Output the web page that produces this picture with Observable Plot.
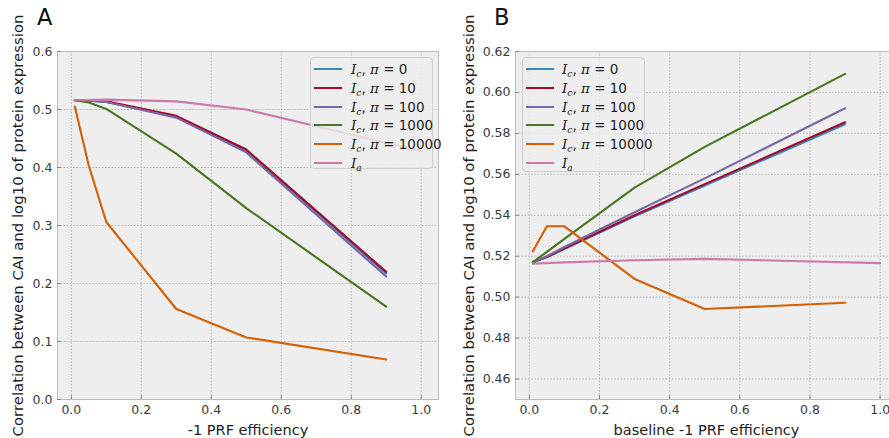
<!DOCTYPE html>
<html><head><meta charset="utf-8">
<script src="https://cdn.jsdelivr.net/npm/d3@7"></script>
<script src="https://cdn.jsdelivr.net/npm/@observablehq/plot@0.6"></script>
<style>
body{margin:0;background:#fff;overflow:hidden;font-family:"DejaVu Sans",sans-serif;}
#wrap{position:relative;width:889px;height:438px;overflow:hidden;}
.panel{position:absolute;top:0;}
.letter{position:absolute;top:6px;font-size:22.5px;line-height:1;color:#111;font-family:"DejaVu Sans",sans-serif;}
.legend{position:absolute;background:rgba(238,238,238,0.8);border:1px solid #cfcfcf;border-radius:4px;box-sizing:border-box;}
.row{position:absolute;left:0;height:18px;font-size:13.5px;color:#222;white-space:nowrap;}
.sw{position:absolute;top:8px;width:28px;height:0;border-top:2.5px solid;}
.lab{position:absolute;top:0;line-height:18px;}
.lab i{font-family:"DejaVu Serif",serif;font-style:italic;}
.lab sub{font-family:"DejaVu Serif",serif;font-style:italic;font-size:9px;vertical-align:-3px;}
g[aria-label="y-axis label"] text{font-size:14.9px;fill:#222;}
g[aria-label="x-axis label"] text{font-size:14.5px;fill:#222;}
</style>
</head><body>
<div id="wrap"></div>
<script>
// ---- data ----
const seriesKeys = ["pi0", "pi10", "pi100", "pi1000", "pi10000", "Ia"];
const seriesPi = ["0", "10", "100", "1000", "10000", null];
const seriesColors = ["#348ABD", "#A60628", "#7A68A6", "#467821", "#D55E00", "#CC79A7"];

const xIc = [0.01, 0.05, 0.1, 0.3, 0.5, 0.9];
const xIa = [0.01, 0.1, 0.3, 0.5, 1.0];

// Panel A: -1 PRF efficiency
const A_pi0     = [0.516, 0.515, 0.513, 0.488, 0.429, 0.217];
const A_pi10    = [0.516, 0.515, 0.514, 0.489, 0.431, 0.220];
const A_pi100   = [0.516, 0.515, 0.513, 0.486, 0.426, 0.212];
const A_pi1000  = [0.516, 0.512, 0.501, 0.424, 0.330, 0.160];
const A_pi10000 = [0.505, 0.403, 0.306, 0.156, 0.107, 0.069];
const A_Ia      = [0.516, 0.517, 0.514, 0.500, 0.428];

// Panel B: baseline -1 PRF efficiency
const B_pi0     = [0.5170, 0.5195, 0.5235, 0.5395, 0.5545, 0.5845];
const B_pi10    = [0.5170, 0.5197, 0.5238, 0.5400, 0.5552, 0.5854];
const B_pi100   = [0.5170, 0.5200, 0.5245, 0.5415, 0.5580, 0.5923];
const B_pi1000  = [0.5171, 0.5221, 0.5285, 0.5535, 0.5734, 0.6091];
const B_pi10000 = [0.5224, 0.5346, 0.5346, 0.5089, 0.4942, 0.4973];
const B_Ia      = [0.5163, 0.5170, 0.5180, 0.5187, 0.5166];

const xTicks = [0, 0.2, 0.4, 0.6, 0.8, 1.0];
const yTicksA = [0, 0.1, 0.2, 0.3, 0.4, 0.5, 0.6];
const yTicksB = [0.46, 0.48, 0.50, 0.52, 0.54, 0.56, 0.58, 0.60, 0.62];
const yLabel = "Correlation between CAI and log10 of protein expression";

function rows(valsList) {
  return valsList.map((vals, i) => {
    const xs = i === 5 ? xIa : xIc;
    return vals.map((v, j) => ({x: xs[j], y: v, s: seriesKeys[i]}));
  });
}

function panel({seriesData, yDomain, yTicks, yFmt, xLabel, width, marginLeft, marginRight, labelOffsetY}) {
  const grid = {stroke: "#b2b2b2", strokeOpacity: 1, strokeWidth: 0.9, strokeDasharray: "1.6,1.6"};
  return Plot.plot({
    width, height: 438,
    marginLeft, marginRight, marginTop: 51, marginBottom: 39,
    style: {background: "transparent", fontFamily: "DejaVu Sans, sans-serif", fontSize: "12.5px", color: "#3a3a3a", overflow: "visible"},
    x: {domain: [-0.0395, 1.0495], ticks: xTicks, tickFormat: d3.format(".1f")},
    y: {domain: yDomain, ticks: yTicks, tickFormat: d3.format(yFmt)},
    color: {domain: seriesKeys, range: seriesColors},
    marks: [
      Plot.frame({fill: "#eeeeee", stroke: null}),
      Plot.gridX(xTicks, grid),
      Plot.gridY(yTicks, grid),
      ...seriesData.map(d => Plot.line(d, {x: "x", y: "y", stroke: "s", strokeWidth: 2.1, clip: true})),
      Plot.frame({stroke: "#bcbcbc", strokeWidth: 1}),
      Plot.axisX(xTicks, {tickSize: -4, tickPadding: 10, stroke: "#888", label: xLabel, labelAnchor: "center", labelArrow: "none", labelOffset: 35, tickFormat: d3.format(".1f")}),
      Plot.axisY(yTicks, {tickSize: -4, tickPadding: 9, stroke: "#888", label: yLabel, labelAnchor: "center", labelArrow: "none", labelOffset: labelOffsetY, tickFormat: d3.format(yFmt)})
    ]
  });
}

const wrap = document.getElementById("wrap");

const pA = panel({
  seriesData: rows([A_pi0, A_pi10, A_pi100, A_pi1000, A_pi10000, A_Ia]),
  yDomain: [0, 0.6], yTicks: yTicksA, yFmt: ".1f", xLabel: "-1 PRF efficiency",
  width: 445, marginLeft: 57, marginRight: 7, labelOffsetY: 45
});
pA.classList.add("panel"); pA.style.left = "0px";
wrap.appendChild(pA);

const pB = panel({
  seriesData: rows([B_pi0, B_pi10, B_pi100, B_pi1000, B_pi10000, B_Ia]),
  yDomain: [0.45, 0.62], yTicks: yTicksB, yFmt: ".2f", xLabel: "baseline -1 PRF efficiency",
  width: 460, marginLeft: 70, marginRight: 8, labelOffsetY: 52
});
pB.classList.add("panel"); pB.style.left = "445px";
wrap.appendChild(pB);

function letter(t, left) {
  const d = document.createElement("div");
  d.className = "letter"; d.textContent = t; d.style.left = left + "px";
  wrap.appendChild(d);
}
letter("A", 37);
letter("B", 494);

function legend(left, top, w, h, swLeft, txtLeft) {
  const L = document.createElement("div");
  L.className = "legend";
  Object.assign(L.style, {left: left + "px", top: top + "px", width: w + "px", height: h + "px"});
  seriesKeys.forEach((k, i) => {
    const r = document.createElement("div");
    r.className = "row";
    r.style.top = (2 + i * 18.75) + "px";
    r.style.width = w + "px";
    const sw = document.createElement("div");
    sw.className = "sw"; sw.style.left = swLeft + "px"; sw.style.borderTopColor = seriesColors[i];
    const lab = document.createElement("div");
    lab.className = "lab"; lab.style.left = txtLeft + "px";
    lab.innerHTML = seriesPi[i] === null
      ? "<i>I</i><sub>a</sub>"
      : "<i>I</i><sub>c</sub>, <i>π</i> = " + seriesPi[i];
    r.appendChild(sw); r.appendChild(lab);
    L.appendChild(r);
  });
  wrap.appendChild(L);
}
legend(310, 57, 123, 112, 3, 40);
legend(522, 57, 123, 115, 3, 39);
</script>
</body></html>
